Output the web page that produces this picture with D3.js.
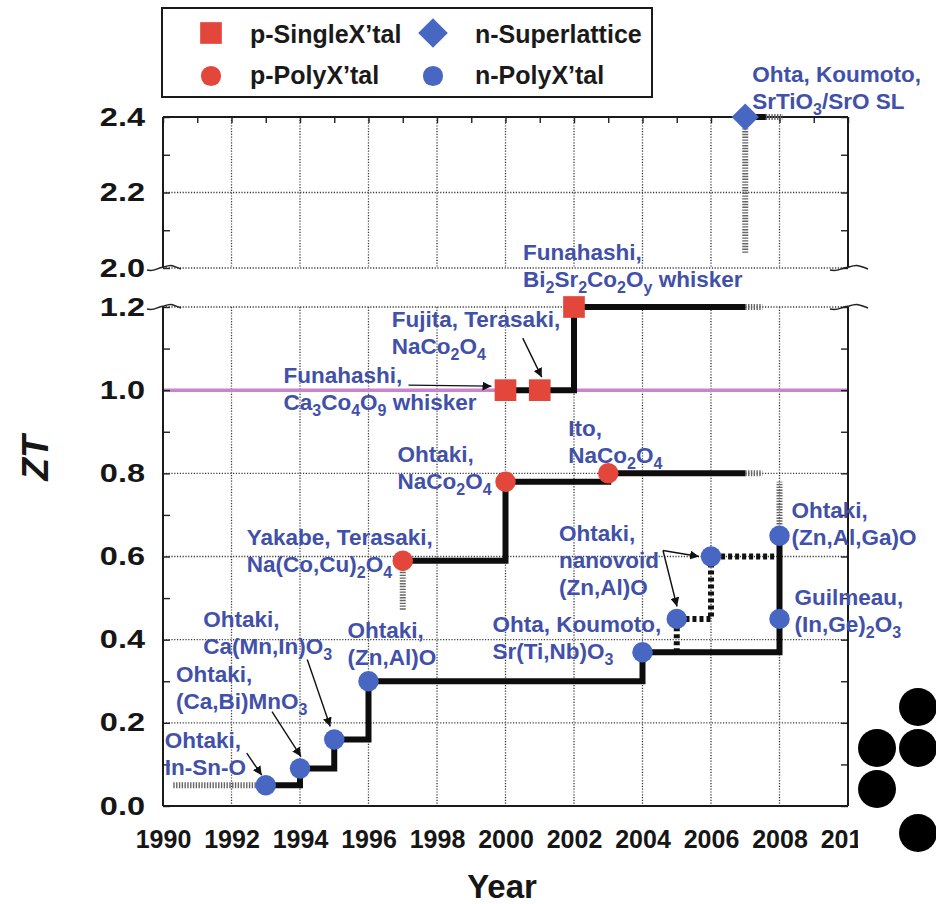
<!DOCTYPE html>
<html>
<head>
<meta charset="utf-8">
<title>ZT records of oxide thermoelectrics</title>
<style>
body {
    margin: 0px;
    overflow: hidden;
    background: #fff;
}
text {
    font-family: "Liberation Sans", Arial, Helvetica, sans-serif;
}
</style>
<script src="https://cdnjs.cloudflare.com/ajax/libs/d3/7.8.5/d3.min.js"></script>
<script>

// ---- data ----
var pSingleYear = [2000, 2001, 2002];
var pSingleZT   = [1.0, 1.0, 1.2];
var pPolyYear   = [1997, 2000, 2003];
var pPolyZT     = [0.59, 0.78, 0.80];
var nPolyYear   = [1993, 1994, 1995, 1996, 2004, 2005, 2006, 2008, 2008];
var nPolyZT     = [0.05, 0.09, 0.16, 0.30, 0.37, 0.45, 0.60, 0.45, 0.65];
var nSLYear     = [2007];
var nSLZT       = [2.4];

// record lines, drawn as steps
var nRecordYear      = [1993, 1994, 1995, 1996, 2004, 2008];
var nRecordZT        = [0.05, 0.09, 0.16, 0.30, 0.37, 0.65];
var pRecordYear      = [1997, 2000, 2003, 2007];
var pRecordZT        = [0.59, 0.78, 0.80, 0.80];
var singleRecordYear = [2000, 2001, 2002, 2007];
var singleRecordZT   = [1.0, 1.0, 1.2, 1.2];
var slRecordYear     = [2007, 2007.6];
var slRecordZT       = [2.4, 2.4];
var nanovoidYear     = [2005, 2005, 2006, 2006, 2008];
var nanovoidZT       = [0.37, 0.45, 0.45, 0.60, 0.60];

// faded (uncertain) extensions, [year, zt] pairs
var extensions = [
    [[1990.3, 0.05], [1993, 0.05]],
    [[1997, 0.59], [1997, 0.47]],
    [[2007, 0.80], [2007.5, 0.80]],
    [[2007, 1.2], [2007.5, 1.2]],
    [[2008, 0.65], [2008, 0.78]],
    [[2007, 2.4], [2007, 2.04]],
    [[2007.6, 2.4], [2008.1, 2.4]]
];

var yearTicks  = d3.range(1990, 2011, 1);
var lowTicks   = [0, 0.1, 0.2, 0.3, 0.4, 0.5, 0.6, 0.7, 0.8, 0.9, 1.0, 1.1, 1.2];
var highTicks  = [2.0, 2.1, 2.2, 2.3, 2.4];
var legendNames = ["p-SingleX\u2019tal", "n-Superlattice", "p-PolyX\u2019tal", "n-PolyX\u2019tal"];

var noteText = [
    ["Ohta, Koumoto,", "SrTiO_3/SrO SL"],
    ["Funahashi,", "Bi_2Sr_2Co_2O_y whisker"],
    ["Fujita, Terasaki,", "NaCo_2O_4"],
    ["Funahashi,", "Ca_3Co_4O_9 whisker"],
    ["Ohtaki,", "NaCo_2O_4"],
    ["Ito,", "NaCo_2O_4"],
    ["Yakabe, Terasaki,", "Na(Co,Cu)_2O_4"],
    ["Ohtaki,", "nanovoid", "(Zn,Al)O"],
    ["Ohta, Koumoto,", "Sr(Ti,Nb)O_3"],
    ["Ohtaki,", "(Zn,Al,Ga)O"],
    ["Guilmeau,", "(In,Ge)_2O_3"],
    ["Ohtaki,", "(Zn,Al)O"],
    ["Ohtaki,", "Ca(Mn,In)O_3"],
    ["Ohtaki,", "(Ca,Bi)MnO_3"],
    ["Ohtaki,", "In-Sn-O"]
];
var noteAt = [[2007, 2.4], [2002, 1.2], [2001, 1.0], [2000, 1.0], [2000, 0.78], [2003, 0.80],
              [1997, 0.59], [2006, 0.60], [2004, 0.37], [2008, 0.65], [2008, 0.45], [1996, 0.30],
              [1995, 0.16], [1994, 0.09], [1993, 0.05]];

// ---- layout (pixels) ----
var noteOffset = [[7, -35], [-51, -47], [-148, -63], [-222, -7], [-108, -20], [-40, -37],
                  [-156, -16], [-152, -16], [-150, -20], [12, -18], [15, -14], [-21, -43],
                  [-131, -112], [-124, -87], [-101, -37]];
// arrows: [note index, from offset, to offset]
var noteArrows = [
    [2, [-17, -52], [2, -13]],
    [3, [-97, -5], [-14, -4]],
    [7, [-48, -6], [-12, 0]],
    [7, [-48, -6], [-34, 50]],
    [12, [-27, -80], [-4, -13]],
    [13, [-28, -57], [1, -12]],
    [14, [-19, -32], [-4, -10]]
];
var decorDots = [[918, 707], [877, 748], [918, 748], [877, 789], [918, 833]];

var RED = "#e3473b", BLUE = "#4767c3", NOTE = "#4150a8";

window.addEventListener("load", function(){

    var svg = d3.select("body").append("svg")
            .attr("width", 936)
            .attr("height", 904);

    var x = d3.scaleLinear().domain([1990, 2010]).range([163, 848]);
    var yLow = d3.scaleLinear().domain([0, 1.2]).range([806, 307]);
    var yHigh = d3.scaleLinear().domain([2.0, 2.4]).range([268, 117]);
    function yv(v) { return v >= 1.9 ? yHigh(v) : yLow(v); }

    var defs = svg.append("defs");
    defs.append("clipPath").attr("id", "xclip")
        .append("rect").attr("x", 0).attr("y", 0).attr("width", 858).attr("height", 904);
    defs.append("marker").attr("id", "head")
        .attr("viewBox", "0 0 10 10").attr("refX", 10).attr("refY", 5)
        .attr("markerWidth", 9).attr("markerHeight", 9).attr("orient", "auto")
        .attr("markerUnits", "userSpaceOnUse")
        .append("path").attr("d", "M0,0L10,5L0,10z").attr("fill", "#111");

    // grid
    var grid = svg.append("g")
        .attr("stroke", "#3a3a3a").attr("stroke-width", 1.3).attr("stroke-dasharray", "1.2,1.6");
    var evenYears = yearTicks.filter(function (d) { return d % 2 === 0 && d > 1990 && d < 2010; });
    evenYears.forEach(function (yr) {
        grid.append("line").attr("x1", x(yr)).attr("x2", x(yr)).attr("y1", yHigh(2.4)).attr("y2", yHigh(2.0));
        grid.append("line").attr("x1", x(yr)).attr("x2", x(yr)).attr("y1", yLow(1.2)).attr("y2", yLow(0));
    });
    [2.0, 2.2].forEach(function (v) {
        grid.append("line").attr("x1", x(1990)).attr("x2", x(2010)).attr("y1", yHigh(v)).attr("y2", yHigh(v));
    });
    [0.2, 0.4, 0.6, 0.8, 1.2].forEach(function (v) {
        grid.append("line").attr("x1", x(1990)).attr("x2", x(2010)).attr("y1", yLow(v)).attr("y2", yLow(v));
    });

    // ZT = 1 line
    svg.append("line")
        .attr("x1", x(1990)).attr("x2", x(2010)).attr("y1", yLow(1)).attr("y2", yLow(1))
        .attr("stroke", "#c884cc").attr("stroke-width", 3.5);

    // axes
    function styleAxis(g) {
        g.select(".domain").remove();
        g.selectAll(".tick line").attr("stroke", "#222").attr("stroke-width", 1.4);
        g.selectAll("text").attr("font-weight", "bold").attr("fill", "#161616");
    }
    function leftAxis(scale, ticks) {
        return d3.axisLeft(scale).tickValues(ticks).tickSizeInner(-7).tickSizeOuter(0).tickPadding(14)
            .tickFormat(function (d) { return Math.round(d * 10) % 2 === 0 ? d3.format(".1f")(d) : ""; });
    }
    function rightAxis(scale, ticks) {
        return d3.axisRight(scale).tickValues(ticks).tickSizeInner(-7).tickSizeOuter(0).tickFormat("");
    }
    [[yLow, lowTicks], [yHigh, highTicks]].forEach(function (p) {
        var gl = svg.append("g").attr("transform", "translate(" + x(1990) + ",0)")
            .call(leftAxis(p[0], p[1])).call(styleAxis);
        gl.selectAll("text").attr("font-size", 25).attr("x", -18 / 1.3)
            .attr("transform", "scale(1.3,1)");
        svg.append("g").attr("transform", "translate(" + x(2010) + ",0)")
            .call(rightAxis(p[0], p[1])).call(styleAxis);
    });
    svg.append("g").attr("transform", "translate(0," + yHigh(2.4) + ")")
        .call(d3.axisTop(x).tickValues(yearTicks).tickSizeInner(-6).tickSizeOuter(0).tickFormat(""))
        .call(styleAxis);
    var gb = svg.append("g").attr("transform", "translate(0," + yLow(0) + ")")
        .attr("clip-path", "url(#xclip)")
        .call(d3.axisBottom(x).tickValues(yearTicks).tickSizeInner(-6).tickSizeOuter(0).tickPadding(24)
            .tickFormat(function (d) { return d % 2 === 0 ? d : ""; }))
        .call(styleAxis);
    gb.selectAll("text").attr("font-size", 25);

    // frame
    var frame = svg.append("g").attr("stroke", "#1a1a1a").attr("stroke-width", 2).attr("fill", "none");
    frame.append("line").attr("x1", x(1990)).attr("x2", x(2010)).attr("y1", yHigh(2.4)).attr("y2", yHigh(2.4));
    frame.append("line").attr("x1", x(1990)).attr("x2", x(2010)).attr("y1", yLow(0)).attr("y2", yLow(0));
    [1990, 2010].forEach(function (yr) {
        frame.append("line").attr("x1", x(yr)).attr("x2", x(yr)).attr("y1", yHigh(2.4)).attr("y2", yHigh(2.0));
        frame.append("line").attr("x1", x(yr)).attr("x2", x(yr)).attr("y1", yLow(1.2)).attr("y2", yLow(0));
    });

    // axis break marks
    [yHigh(2.0), yLow(1.2)].forEach(function (yy) {
        [[x(1990) - 16, x(1990) + 18], [x(2010) - 18, x(2010) + 20]].forEach(function (r) {
            var p = d3.path(), w = (r[1] - r[0]) / 4;
            p.moveTo(r[0], yy + 2);
            p.bezierCurveTo(r[0] + w, yy + 4, r[0] + w, yy, r[0] + 2 * w, yy - 1);
            p.bezierCurveTo(r[0] + 3 * w, yy - 4, r[0] + 3 * w, yy - 2, r[1], yy + 1);
            svg.append("path").attr("d", p.toString())
                .attr("fill", "none").attr("stroke", "#222").attr("stroke-width", 1.6);
        });
    });

    // lines
    var straight = d3.line().x(function (d) { return x(d[0]); }).y(function (d) { return yv(d[1]); });
    var step = d3.line().x(function (d) { return x(d[0]); }).y(function (d) { return yv(d[1]); })
        .curve(d3.curveStepAfter);
    function pairs(a, b) { return a.map(function (v, i) { return [v, b[i]]; }); }

    extensions.forEach(function (seg) {
        svg.append("path").attr("d", straight(seg))
            .attr("fill", "none").attr("stroke", "#666").attr("stroke-width", 6)
            .attr("stroke-dasharray", "1.4,1.4");
    });
    svg.append("path").attr("d", straight(pairs(nanovoidYear, nanovoidZT)))
        .attr("fill", "none").attr("stroke", "#111").attr("stroke-width", 6)
        .attr("stroke-dasharray", "4,3");
    [[nRecordYear, nRecordZT], [pRecordYear, pRecordZT], [singleRecordYear, singleRecordZT],
     [slRecordYear, slRecordZT]].forEach(function (s) {
        svg.append("path").attr("d", step(pairs(s[0], s[1])))
            .attr("fill", "none").attr("stroke", "#0d0d0d").attr("stroke-width", 6);
    });

    // markers
    var circle = d3.symbol().type(d3.symbolCircle).size(330);
    var square = d3.symbol().type(d3.symbolSquare).size(470);
    var diamond = d3.symbol().type(d3.symbolSquare).size(370);
    function drawMarks(years, zts, sym, color, rot) {
        svg.append("g").selectAll("path").data(pairs(years, zts)).join("path")
            .attr("d", sym)
            .attr("transform", function (d) { return "translate(" + x(d[0]) + "," + yv(d[1]) + ") rotate(" + rot + ")"; })
            .attr("fill", color);
    }
    drawMarks(pPolyYear, pPolyZT, circle, RED, 0);
    drawMarks(nPolyYear, nPolyZT, circle, BLUE, 0);
    drawMarks(pSingleYear, pSingleZT, square, RED, 0);
    drawMarks(nSLYear, nSLZT, diamond, BLUE, 45);

    // annotations
    function richText(sel, str) {
        var parts = str.split(/_(.)/), shifted = false;
        parts.forEach(function (p, i) {
            if (!p) return;
            var sub = i % 2 === 1;
            var t = sel.append("tspan").text(p);
            if (sub) { t.attr("font-size", 16).attr("dy", shifted ? 0 : 6); shifted = true; }
            else if (shifted) { t.attr("dy", -6); shifted = false; }
        });
    }
    noteText.forEach(function (lines, i) {
        var ax = x(noteAt[i][0]) + noteOffset[i][0];
        var ay = yv(noteAt[i][1]) + noteOffset[i][1];
        lines.forEach(function (line, j) {
            var t = svg.append("text").attr("x", ax).attr("y", ay + j * 27)
                .attr("font-size", 22.5).attr("font-weight", "bold").attr("fill", NOTE);
            richText(t, line);
        });
    });
    noteArrows.forEach(function (a) {
        var bx = x(noteAt[a[0]][0]), by = yv(noteAt[a[0]][1]);
        svg.append("line")
            .attr("x1", bx + a[1][0]).attr("y1", by + a[1][1])
            .attr("x2", bx + a[2][0]).attr("y2", by + a[2][1])
            .attr("stroke", "#111").attr("stroke-width", 1.4)
            .attr("marker-end", "url(#head)");
    });

    // axis titles
    svg.append("text").attr("x", 502).attr("y", 898).attr("text-anchor", "middle")
        .attr("font-size", 33).attr("font-weight", "bold").attr("fill", "#161616").text("Year");
    svg.append("text").attr("transform", "translate(48,458) rotate(-90)").attr("text-anchor", "middle")
        .attr("font-size", 37).attr("font-weight", "bold").attr("font-style", "italic")
        .attr("fill", "#161616").text("ZT");

    // legend
    var lg = svg.append("g");
    lg.append("rect").attr("x", 162).attr("y", 8).attr("width", 490).attr("height", 89)
        .attr("fill", "#fff").attr("stroke", "#1a1a1a").attr("stroke-width", 2);
    var legendSyms = [[square, RED, 0], [d3.symbol().type(d3.symbolSquare).size(440), BLUE, 45],
                      [d3.symbol().type(d3.symbolCircle).size(320), RED, 0], [d3.symbol().type(d3.symbolCircle).size(320), BLUE, 0]];
    legendNames.forEach(function (name, i) {
        var col = i % 2, row = Math.floor(i / 2);
        var sx = col === 0 ? 211 : 433, sy = row === 0 ? 33 : 76;
        lg.append("path").attr("d", legendSyms[i][0])
            .attr("transform", "translate(" + sx + "," + sy + ") rotate(" + legendSyms[i][2] + ")")
            .attr("fill", legendSyms[i][1]);
        lg.append("text").attr("x", col === 0 ? 250 : 475).attr("y", row === 0 ? 43 : 84)
            .attr("font-size", 25).attr("font-weight", "bold").attr("fill", "#1a1a1a").text(name);
    });

    // slide decoration at the bottom right
    svg.append("g").selectAll("circle").data(decorDots).join("circle")
        .attr("cx", function (d) { return d[0]; }).attr("cy", function (d) { return d[1]; })
        .attr("r", 19).attr("fill", "#000");

},false);

</script>
</head>
<body>
</body>
</html>
